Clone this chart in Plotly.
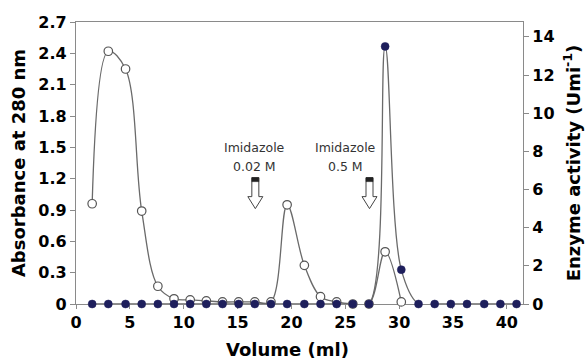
import plotly.graph_objects as go

# ---- data ----
volume = [1.5, 3.0, 4.6, 6.1, 7.6, 9.1, 10.6, 12.1, 13.6, 15.1, 16.6, 18.1, 19.6,
          21.2, 22.7, 24.2, 25.7, 27.2, 28.7, 30.2, 31.8, 33.3, 34.8, 36.3, 37.9,
          39.4, 40.9]
abs_volume = [1.5, 3.0, 4.6, 6.1, 7.6, 9.1, 10.6, 12.1, 13.6, 15.1, 16.6, 18.1, 19.6,
              21.2, 22.7, 24.2, 25.7, 27.2, 28.7, 30.2]
absorbance = [0.96, 2.42, 2.25, 0.89, 0.17, 0.05, 0.04, 0.03, 0.02, 0.02, 0.02, 0.02,
              0.95, 0.37, 0.07, 0.02, 0.0, 0.0, 0.50, 0.02]
activity = [0, 0, 0, 0, 0, 0, 0, 0, 0, 0, 0, 0, 0, 0, 0, 0, 0, 0, 13.5, 1.8,
            0, 0, 0, 0, 0, 0, 0]

x_ticks = [0, 5, 10, 15, 20, 25, 30, 35, 40]
y_ticks = [0, 0.3, 0.6, 0.9, 1.2, 1.5, 1.8, 2.1, 2.4, 2.7]
y_tick_text = ["0", "0.3", "0.6", "0.9", "1.2", "1.5", "1.8", "2.1", "2.4", "2.7"]
y2_ticks = [0, 2, 4, 6, 8, 10, 12, 14]

arrows = [
    {"x": 16.65, "line1": "Imidazole", "line2": "0.02 M", "tx": 16.6},
    {"x": 27.25, "line1": "Imidazole", "line2": "0.5 M", "tx": 25.0},
]

FONT = "DejaVu Sans, sans-serif"
LINE_GRAY = "#6a6a6a"
AXIS_GRAY = "#8a8a8a"
NAVY = "#1e1f5c"

fig = go.Figure()

fig.add_trace(go.Scatter(
    x=abs_volume, y=absorbance, mode="lines+markers",
    line=dict(color=LINE_GRAY, width=1.3, shape="spline", smoothing=1.0),
    marker=dict(symbol="circle", size=8.5, color="white",
                line=dict(color="#555555", width=1.2)),
    cliponaxis=False, yaxis="y", showlegend=False, hoverinfo="skip",
))

fig.add_trace(go.Scatter(
    x=volume, y=activity, mode="lines+markers",
    line=dict(color=LINE_GRAY, width=1.3, shape="spline", smoothing=1.0),
    marker=dict(symbol="circle", size=8, color=NAVY,
                line=dict(color=NAVY, width=0.5)),
    cliponaxis=False, yaxis="y2", showlegend=False, hoverinfo="skip",
))

shapes = []
annotations = []
for a in arrows:
    # hollow block arrow, drawn in pixel units anchored at the data position
    shapes.append(dict(
        type="path", xref="x", yref="y", xsizemode="pixel", ysizemode="pixel",
        xanchor=a["x"], yanchor=0.913,
        path="M 0 0 L -7.5 12 L -3.5 12 L -3.5 31 L 3.5 31 L 3.5 12 L 7.5 12 Z",
        fillcolor="white", line=dict(color="#444444", width=1), layer="above",
    ))
    shapes.append(dict(
        type="path", xref="x", yref="y", xsizemode="pixel", ysizemode="pixel",
        xanchor=a["x"], yanchor=0.913,
        path="M -3.5 27 L 3.5 27 L 3.5 31 L -3.5 31 Z",
        fillcolor="#222222", line=dict(color="#222222", width=0.5), layer="above",
    ))
    annotations.append(dict(
        x=a["tx"], y=1.50, xref="x", yref="y", text=a["line1"], showarrow=False,
        font=dict(family=FONT, size=12.5, color="#333333"),
    ))
    annotations.append(dict(
        x=a["tx"], y=1.316, xref="x", yref="y", text=a["line2"], showarrow=False,
        font=dict(family=FONT, size=12.5, color="#333333"),
    ))

tick_font = dict(family=FONT, size=16, color="black", weight="bold")
title_font = dict(family=FONT, size=18, color="black", weight="bold")

# x-axis title, placed slightly left of the plot centre as in the reference
annotations.append(dict(
    x=0.474, y=-0.16, xref="paper", yref="paper", text="Volume (ml)",
    showarrow=False, xanchor="center", yanchor="middle", font=title_font,
))

fig.update_layout(
    width=586, height=362,
    margin=dict(l=76, r=63, t=22, b=58),
    paper_bgcolor="white", plot_bgcolor="white",
    font=dict(family=FONT, color="black"),
    shapes=shapes, annotations=annotations,
    xaxis=dict(
        range=[0, 41.5], tickvals=x_ticks, ticks="outside", ticklen=4,
        tickcolor=AXIS_GRAY, showline=True, linecolor=AXIS_GRAY, linewidth=1.2,
        mirror=True, showgrid=False, zeroline=False, layer="below traces",
        automargin=False, tickfont=tick_font,
    ),
    yaxis=dict(
        range=[0, 2.7], tickvals=y_ticks, ticktext=y_tick_text, ticks="outside",
        ticklen=5, tickcolor=AXIS_GRAY, showline=True, linecolor=AXIS_GRAY,
        linewidth=1.2, showgrid=False, zeroline=False, layer="below traces",
        automargin=False, tickfont=tick_font,
        title=dict(text="Absorbance at 280 nm", standoff=8, font=title_font),
    ),
    yaxis2=dict(
        range=[0, 14.78], tickvals=y2_ticks, overlaying="y", side="right",
        ticks="outside", ticklen=5, tickcolor=AXIS_GRAY, showline=True,
        linecolor=AXIS_GRAY, linewidth=1.2, showgrid=False, zeroline=False,
        layer="below traces", automargin=False, tickfont=tick_font,
        title=dict(text="Enzyme activity (Umi<sup>-1</sup>)", standoff=13,
                   font=title_font),
    ),
)

# remove the browser's default body margin so the figure sits at the page origin
fig.write_html("out.html", config={"displayModeBar": False},
               post_script="document.body.style.margin='0';")
